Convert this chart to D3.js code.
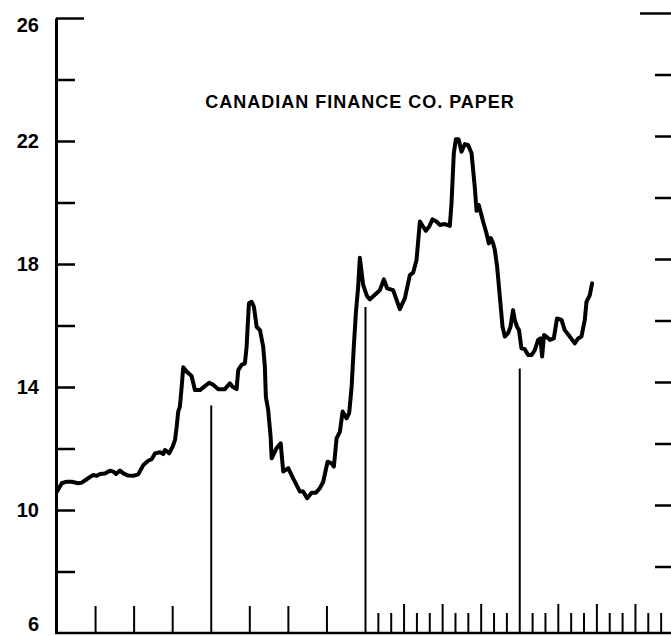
<!DOCTYPE html>
<html>
<head>
<meta charset="utf-8">
<script src="https://cdn.jsdelivr.net/npm/d3@7"></script>
<style>
  body { margin: 0; background: #fff; }
  svg { display: block; }
</style>
</head>
<body>
<div id="chart"></div>
<script>
// position along the time axis, in months from the start of the first year
const months = [0, 0.37, 0.75, 1.14, 1.66, 1.92, 2.31, 2.82, 3.09, 3.34, 3.73, 4.12, 4.38, 4.59, 4.9, 5.16, 5.54, 5.93, 6.32,
  6.71, 7.1, 7.36, 7.62, 8.01, 8.27, 8.4, 8.58, 8.73, 9.0, 9.18, 9.31, 9.43, 9.56, 9.7, 9.82, 10.09, 10.47, 10.73, 11.12,
  11.51, 11.84, 12.15, 12.54, 13.06, 13.45, 13.66, 13.97, 14.1, 14.36, 14.62, 14.75, 14.93, 15.14, 15.32, 15.53, 15.79,
  16.04, 16.17, 16.25, 16.43, 16.62, 16.7, 17.08, 17.4, 17.6, 17.99, 18.37, 18.64, 18.9, 19.15, 19.46, 19.81, 20.14,
  20.45, 20.71, 21.05, 21.36, 21.54, 21.75, 22.01, 22.22, 22.53, 22.73, 22.92, 23.09, 23.25, 23.43, 23.56, 23.82, 24.11,
  24.34, 24.86, 25.12, 25.43, 25.68, 26.15, 26.67, 27.06, 27.45, 27.71, 27.97, 28.23, 28.69, 28.95, 29.21, 29.53, 29.78,
  30.17, 30.56, 30.69, 30.87, 31.03, 31.24, 31.47, 31.73, 31.98, 32.25, 32.5, 32.64, 32.81, 32.95, 33.15, 33.41, 33.59,
  33.75, 33.93, 34.06, 34.24, 34.45, 34.66, 34.84, 35.09, 35.28, 35.48, 35.61, 35.79, 35.94, 36.13, 36.39, 36.65, 36.91,
  37.17, 37.43, 37.61, 37.74, 37.89, 38.08, 38.34, 38.65, 38.9, 39.25, 39.5, 39.89, 40.28, 40.54, 40.8, 41.06, 41.19,
  41.45, 41.63];

const rates = [10.6, 10.87, 10.92, 10.92, 10.87, 10.89, 11.0, 11.14, 11.11, 11.17, 11.19, 11.28, 11.25, 11.17, 11.28, 11.19,
  11.12, 11.11, 11.16, 11.46, 11.6, 11.65, 11.84, 11.88, 11.82, 11.95, 11.9, 11.84, 12.06, 12.28, 12.71, 13.2, 13.36,
  14.01, 14.64, 14.5, 14.36, 13.9, 13.9, 14.03, 14.14, 14.07, 13.93, 13.93, 14.12, 14.01, 13.93, 14.55, 14.72, 14.77,
  15.31, 16.72, 16.77, 16.61, 15.96, 15.85, 15.31, 14.66, 13.68, 13.25, 12.38, 11.68, 12.01, 12.17, 11.25, 11.36, 11.03,
  10.81, 10.6, 10.6, 10.38, 10.56, 10.56, 10.71, 10.92, 11.57, 11.52, 11.41, 12.33, 12.55, 13.2, 12.98, 13.15, 14.01,
  15.31, 16.4, 17.26, 18.2, 17.32, 16.96, 16.85, 17.05, 17.15, 17.5, 17.21, 17.15, 16.53, 16.88, 17.64, 17.72, 18.13,
  19.38, 19.08, 19.21, 19.45, 19.38, 19.27, 19.3, 19.24, 19.97, 21.6, 22.06, 22.06, 21.65, 21.9, 21.87, 21.6, 20.51,
  19.73, 19.92, 19.7, 19.38, 19.0, 18.67, 18.84, 18.67, 18.46, 17.91, 16.94, 15.96, 15.64, 15.75, 15.96, 16.5, 16.18,
  15.96, 15.85, 15.26, 15.23, 15.04, 15.04, 15.2, 15.53, 15.58, 14.99, 15.69, 15.64, 15.53, 15.58, 16.23, 16.18, 15.85,
  15.64, 15.42, 15.58, 15.64, 16.18, 16.77, 16.99, 17.37];

// year boundaries and the height where their marker lines stop
const yearMarks = [12, 24, 36];
const yearMarkTops = [13.4, 16.6, 14.6];

const yLabels = [26, 22, 18, 14, 10, 6];
const title = 'CANADIAN FINANCE CO. PAPER';

const width = 671, height = 636;

const svg = d3.select('#chart')
  .append('svg')
  .attr('width', width)
  .attr('height', height);

svg.append('rect').attr('width', width).attr('height', height).attr('fill', '#fff');

const x = d3.scaleLinear().domain([0, 48]).range([57, 674]);
const y = d3.scaleLinear().domain([6, 26]).range([633, 18]);

// left axis with inward ticks
const gLeft = svg.append('g')
  .attr('transform', `translate(${x(0) - 1},0)`)
  .call(d3.axisLeft(y).tickValues(d3.range(8, 27, 2)).tickSize(-19).tickSizeOuter(0).tickFormat(''));
gLeft.select('.domain').attr('stroke', '#000').attr('stroke-width', 3);
gLeft.selectAll('.tick line').attr('stroke', '#000').attr('stroke-width', 2.5)
  .filter(d => d === 26).attr('x2', 28);

// right side ticks (scan sits a little higher there)
const gRight = svg.append('g')
  .attr('transform', `translate(${width},-5)`)
  .call(d3.axisRight(y).tickValues(d3.range(8, 27, 2)).tickSize(-16).tickSizeOuter(0).tickFormat(''));
gRight.select('.domain').remove();
gRight.selectAll('.tick line').attr('stroke', '#000').attr('stroke-width', 2.5)
  .filter(d => d === 26).attr('x2', -31);

svg.append('g')
  .selectAll('text')
  .data(yLabels)
  .enter()
  .append('text')
  .attr('x', 39)
  .attr('y', d => Math.min(Math.max(y(d), 25), 624))
  .attr('dy', '0.36em')
  .attr('text-anchor', 'end')
  .attr('font-family', '"Liberation Sans", Arial, sans-serif')
  .attr('font-weight', 'bold')
  .attr('font-size', 20)
  .text(d => d);

// bottom axis line
svg.append('line')
  .attr('x1', x(0) - 2).attr('x2', width)
  .attr('y1', y(6)).attr('y2', y(6))
  .attr('stroke', '#000').attr('stroke-width', 2.5);

// quarterly ticks in the first two years, monthly ticks afterwards
const tickMonths = d3.range(1, 48).filter(m => m % 12 !== 0 && (m > 24 || m % 3 === 0));
svg.append('g')
  .selectAll('line')
  .data(tickMonths)
  .enter()
  .append('line')
  .attr('x1', d => x(d)).attr('x2', d => x(d))
  .attr('y1', y(6))
  .attr('y2', d => y(6) - (d < 24 ? 27 : (d % 3 === 0 ? 29 : 20)))
  .attr('stroke', '#000')
  .attr('stroke-width', 2);

// year marker lines
svg.append('g')
  .selectAll('line')
  .data(yearMarks)
  .enter()
  .append('line')
  .attr('x1', d => x(d)).attr('x2', d => x(d))
  .attr('y1', y(6))
  .attr('y2', (d, i) => y(yearMarkTops[i]))
  .attr('stroke', '#000')
  .attr('stroke-width', 2);

const line = d3.line()
  .x((d, i) => x(months[i]))
  .y(d => y(d));

svg.append('path')
  .datum(rates)
  .attr('d', line)
  .attr('fill', 'none')
  .attr('stroke', '#000')
  .attr('stroke-width', 4)
  .attr('stroke-linejoin', 'round')
  .attr('stroke-linecap', 'round');

svg.append('text')
  .attr('x', 360)
  .attr('y', 102)
  .attr('dy', '0.36em')
  .attr('text-anchor', 'middle')
  .attr('font-family', '"Liberation Sans", Arial, sans-serif')
  .attr('font-weight', 'bold')
  .attr('font-size', 18)
  .attr('letter-spacing', 1)
  .text(title);
</script>
</body>
</html>
